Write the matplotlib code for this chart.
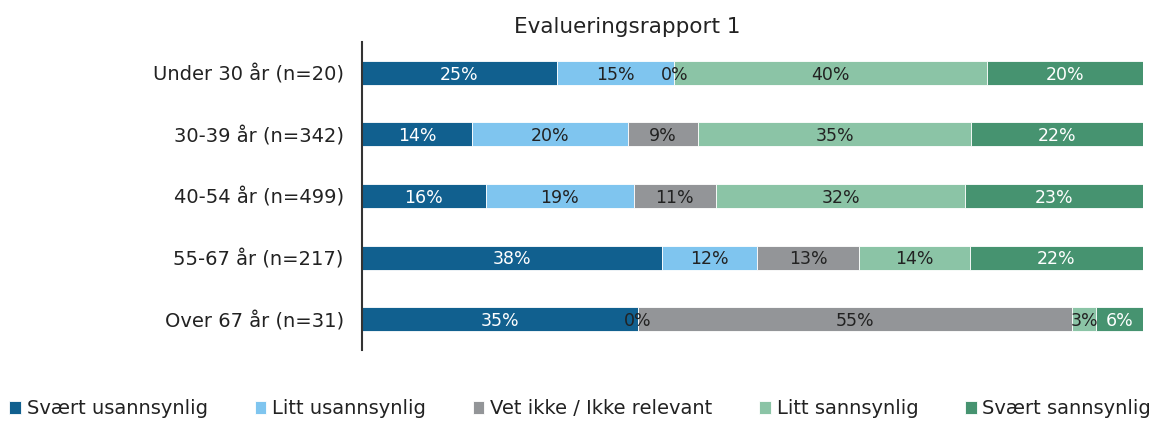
import matplotlib.pyplot as plt
import numpy as np

plt.rcParams['font.family'] = ['DejaVu Sans']

groups = ["Under 30 år (n=20)", "30-39 år (n=342)", "40-54 år (n=499)",
          "55-67 år (n=217)", "Over 67 år (n=31)"]
categories = ["Svært usannsynlig", "Litt usannsynlig", "Vet ikke / Ikke relevant",
              "Litt sannsynlig", "Svært sannsynlig"]

svaert_usannsynlig = [25.0, 14.1, 15.9, 38.4, 35.2]
litt_usannsynlig = [15.0, 19.9, 18.9, 12.2, 0.0]
vet_ikke = [0.0, 9.0, 10.6, 13.0, 55.4]
litt_sannsynlig = [40.0, 34.9, 31.9, 14.2, 3.1]
svaert_sannsynlig = [20.0, 22.0, 22.8, 22.2, 6.0]

series = [svaert_usannsynlig, litt_usannsynlig, vet_ikke, litt_sannsynlig, svaert_sannsynlig]
colors = ["#11608f", "#7fc5ef", "#939598", "#8bc4a6", "#469370"]
text_colors = ["white", "#222222", "#222222", "#222222", "white"]

fig = plt.figure(figsize=(11.56, 4.21), dpi=100)
ax = fig.add_axes([0.313, 0.169, 0.676, 0.731])

y = np.arange(len(groups))
data = np.array(series, dtype=float)
totals = data.sum(axis=0)
left = np.zeros(len(groups))
for i, vals in enumerate(data):
    widths = vals / totals * 100
    bars = ax.barh(y, widths, left=left, height=0.39, color=colors[i],
                   edgecolor="white", linewidth=0.6, label=categories[i])
    for j, bar in enumerate(bars):
        cx = left[j] + widths[j] / 2
        ax.text(cx, y[j] + 0.03, f"{round(vals[j]):.0f}%", ha="center", va="center",
                fontsize=12.5, color=text_colors[i])
    left += widths

ax.set_xlim(0, 100)
ax.set_ylim(len(groups) - 0.5, -0.5)
ax.set_yticks(y)
ax.set_yticklabels(groups, fontsize=14, color="#222222")
ax.tick_params(axis="y", length=0, pad=13)
ax.set_xticks([])
for s in ["top", "right", "bottom"]:
    ax.spines[s].set_visible(False)
ax.spines["left"].set_color("#333333")
ax.spines["left"].set_linewidth(1.5)

fig.suptitle("Evalueringsrapport 1", x=0.543, y=0.96, fontsize=15.5, color="#222222")

fig.legend(loc="lower center", bbox_to_anchor=(0.502, -0.035), ncol=5, frameon=False,
           fontsize=14, handlelength=0.6, handleheight=0.6, handletextpad=0.3,
           columnspacing=2.4, labelcolor="#222222")

fig.savefig("out.png", dpi=100)
